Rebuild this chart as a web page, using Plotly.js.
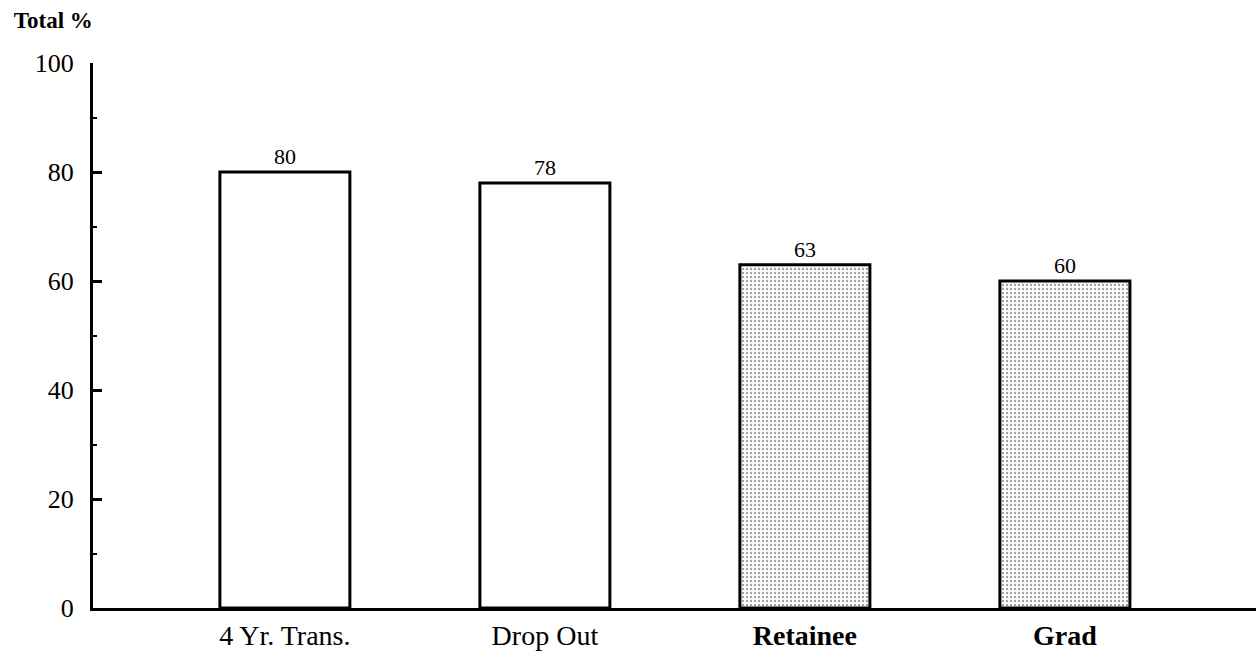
<!DOCTYPE html>
<html>
<head>
<meta charset="utf-8">
<script src="https://cdn.plot.ly/plotly-3.0.1.min.js"></script>
<style>
  html, body { margin: 0; padding: 0; background: #fff; }
  #chart { width: 1256px; height: 655px; }
</style>
</head>
<body>
<div id="chart"></div>
<script>
const categories = ["4 Yr. Trans.", "Drop Out", "Retainee", "Grad"];
const values = [80, 78, 63, 60];
const valueLabels = ["80", "78", "63", "60"];
const patternShapes = ["", "", ".", "."];
const yTicks = [0, 20, 40, 60, 80, 100];

const serif = "Liberation Serif, Times New Roman, serif";
// the last two category labels print heavier in the original
const heavyLabels = new Set(["Retainee", "Grad"]);
const catTickText = categories.map(c => heavyLabels.has(c) ? "<b>" + c + "</b>" : c);

const trace = {
  type: "bar",
  x: categories,
  y: values,
  text: valueLabels,
  textposition: "outside",
  cliponaxis: false,
  textfont: { family: serif, size: 22, color: "#000" },
  width: 0.5,
  marker: {
    color: "#ffffff",
    line: { color: "#000", width: 3 },
    pattern: { shape: patternShapes, fgcolor: "#444", bgcolor: "#fff", size: 4, solidity: 0.28, fillmode: "overlay" }
  },
  hoverinfo: "skip"
};

const layout = {
  width: 1256,
  height: 655,
  margin: { l: 93, r: 0, t: 63, b: 47, pad: 0 },
  paper_bgcolor: "#fff",
  plot_bgcolor: "#fff",
  showlegend: false,
  font: { family: serif, color: "#000" },
  title: {
    text: "<b>Total %</b>",
    font: { family: serif, size: 23, color: "#000" },
    xref: "container", yref: "container",
    x: 0.011, xanchor: "left",
    y: 0.97, yanchor: "middle"
  },
  xaxis: {
    type: "category",
    range: [-0.738, 3.735],
    tickvals: categories,
    ticktext: catTickText,
    showline: true, linecolor: "#000", linewidth: 3,
    showgrid: false, zeroline: false,
    ticks: "",
    tickfont: { family: serif, size: 28, color: "#000" },
    ticklabelstandoff: 0
  },
  yaxis: {
    range: [0, 100],
    tickvals: yTicks,
    ticktext: yTicks.map(String),
    showline: true, linecolor: "#000", linewidth: 3,
    showgrid: false, zeroline: false,
    ticks: "inside", ticklen: 9, tickwidth: 3, tickcolor: "#000",
    minor: { ticks: "inside", ticklen: 4, tickwidth: 2, tickcolor: "#000", dtick: 10, showgrid: false },
    tickfont: { family: serif, size: 26, color: "#000" },
    ticklabelstandoff: 11
  }
};

Plotly.newPlot("chart", [trace], layout, { staticPlot: true, displayModeBar: false });
</script>
</body>
</html>
